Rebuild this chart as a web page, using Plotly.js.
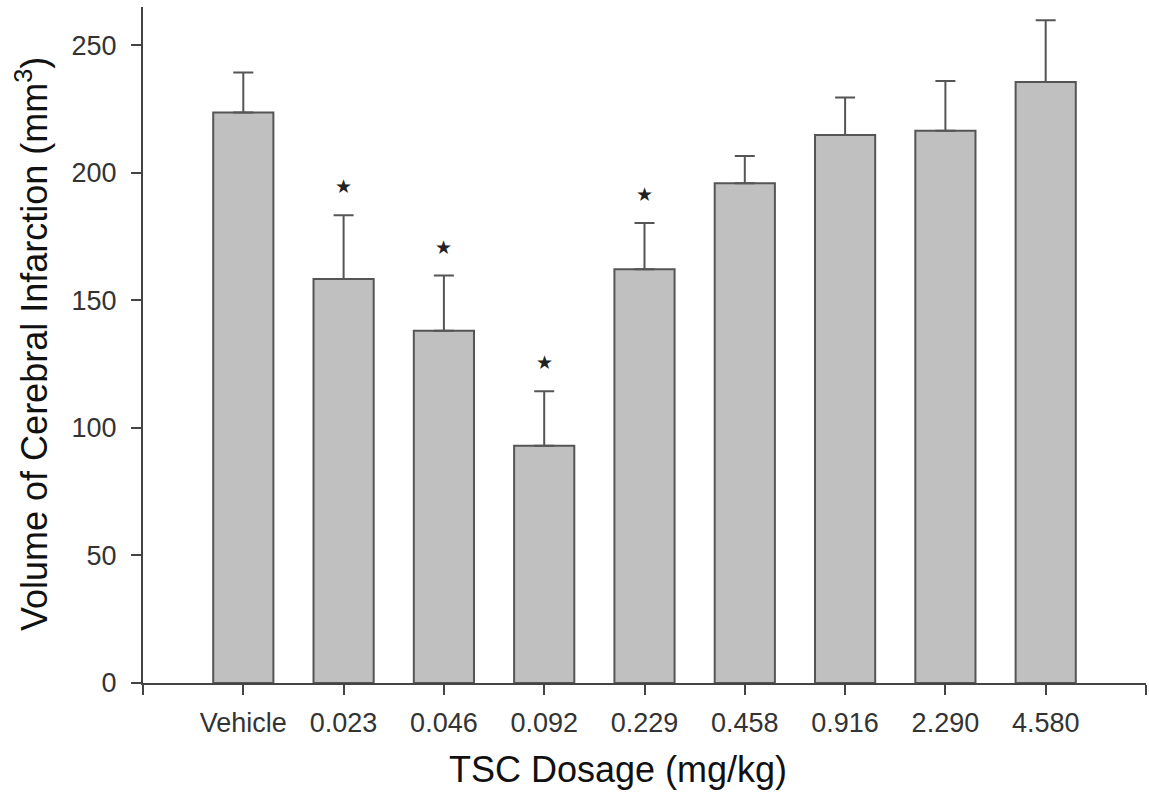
<!DOCTYPE html>
<html>
<head>
<meta charset="utf-8">
<script src="https://cdn.plot.ly/plotly-3.0.1.min.js"></script>
<style>html,body{margin:0;padding:0;background:#fff;}#chart{width:1149px;height:801px;}</style>
</head>
<body>
<div id="chart"></div>
<script>
// Data
const categories = ['Vehicle', '0.023', '0.046', '0.092', '0.229', '0.458', '0.916', '2.290', '4.580'];
const infarctVolume = [223.6, 158.4, 138.1, 93.0, 162.2, 195.9, 214.8, 216.5, 235.6];
const errorUpper = [15.7, 25.0, 21.6, 21.4, 18.1, 10.7, 14.7, 19.5, 24.2];
const significant = [false, true, true, true, true, false, false, false, false];
const yTicks = [0, 50, 100, 150, 200, 250];

const xPos = categories.map((c, i) => i + 1);
const tickVals = [0].concat(xPos, [categories.length + 1]);
const tickText = [''].concat(categories, ['']);

const trace = {
  type: 'bar',
  x: xPos,
  y: infarctVolume,
  width: 0.6,
  marker: { color: '#c0c0c0', line: { color: '#555555', width: 2 } },
  error_y: {
    type: 'data', symmetric: false, array: errorUpper,
    arrayminus: infarctVolume.map(() => 0),
    color: '#555555', thickness: 2, width: 10
  },
  hoverinfo: 'skip'
};

const annotations = [];
categories.forEach((c, i) => {
  if (significant[i]) {
    annotations.push({
      x: xPos[i], y: infarctVolume[i] + errorUpper[i], xref: 'x', yref: 'y',
      text: '★', showarrow: false, yanchor: 'middle', yshift: 29,
      font: { family: 'DejaVu Sans', size: 19, color: '#222222' }
    });
  }
});
annotations.push({
  xref: 'paper', yref: 'paper', x: 0.4736, y: -0.128, xanchor: 'center', yanchor: 'middle',
  text: 'TSC Dosage (mg/kg)', showarrow: false,
  font: { family: 'Liberation Sans, Arial, sans-serif', size: 36, color: '#111111' }
});
annotations.push({
  xref: 'paper', yref: 'paper', x: -0.110, y: 0.501, xanchor: 'center', yanchor: 'middle',
  textangle: -90,
  text: 'Volume of Cerebral Infarction (mm<sup>3</sup>)', showarrow: false,
  font: { family: 'Liberation Sans, Arial, sans-serif', size: 36, color: '#111111' }
});

const layout = {
  width: 1149, height: 801,
  margin: { l: 143, r: 3, t: 7, b: 118 },
  paper_bgcolor: '#ffffff', plot_bgcolor: '#ffffff',
  showlegend: false,
  font: { family: 'Liberation Sans, Arial, sans-serif', color: '#333333' },
  xaxis: {
    range: [0, categories.length + 1],
    tickmode: 'array', tickvals: tickVals, ticktext: tickText,
    ticks: 'outside', ticklen: 10, tickwidth: 2, tickcolor: '#444444',
    showline: true, linecolor: '#444444', linewidth: 2,
    showgrid: false, zeroline: false,
    tickfont: { size: 27, color: '#333333' },
    ticklabelstandoff: 5
  },
  yaxis: {
    range: [0, 265],
    tickmode: 'array', tickvals: yTicks,
    ticks: 'outside', ticklen: 10, tickwidth: 2, tickcolor: '#444444',
    showline: true, linecolor: '#444444', linewidth: 2,
    showgrid: false, zeroline: false,
    tickfont: { size: 27, color: '#333333' },
    ticklabelstandoff: 9
  },
  annotations: annotations
};

Plotly.newPlot('chart', [trace], layout, { displayModeBar: false, staticPlot: true });
</script>
</body>
</html>
